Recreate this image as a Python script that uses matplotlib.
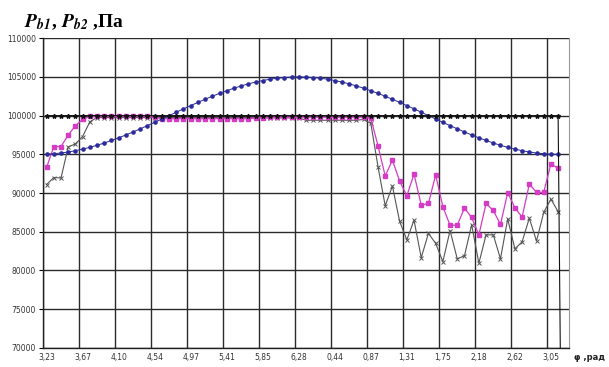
import matplotlib.pyplot as plt
import numpy as np

plt.rcParams['mathtext.fontset'] = 'stix'

# phi labels every 5 points (5 degree step, starting at 185 deg)
phi_labels = ['3,23', '3,67', '4,10', '4,54', '4,97', '5,41', '5,85', '6,28',
              '0,44', '0,87', '1,31', '1,75', '2,18', '2,62', '3,05']

# reference pressure (last point drops to zero)
p_ref = [100000] * 72 + [0]

# blue curve
p_cos = [95020, 95080, 95170, 95300, 95470, 95670, 95900, 96170, 96460, 96790,
         97130, 97500, 97890, 98290, 98710, 99130, 99560, 100000, 100440, 100870,
         101290, 101710, 102110, 102500, 102870, 103210, 103540, 103830, 104100, 104330,
         104530, 104700, 104830, 104920, 104980, 105000, 104980, 104920, 104830, 104700,
         104530, 104330, 104100, 103830, 103540, 103210, 102870, 102500, 102110, 101710,
         101290, 100870, 100440, 100000, 99560, 99130, 98710, 98290, 97890, 97500,
         97130, 96790, 96460, 96170, 95900, 95670, 95470, 95300, 95170, 95080,
         95020, 95000]

# P_b1 (magenta)
p_b1 = [93300, 96000, 96000, 97500, 98700, 99500, 99900, 99900, 99900, 99900,
        99900, 99900, 99900, 99900, 99900, 99800, 99600, 99600, 99600, 99600,
        99600, 99600, 99600, 99600, 99600, 99600, 99600, 99600, 99600, 99700,
        99700, 99800, 99800, 99800, 99800, 99800, 99800, 99800, 99800, 99800,
        99800, 99800, 99800, 99800, 99800, 99650, 96100, 92200, 94250, 91550,
        89650, 92450, 88450, 88650, 92350, 88250, 85850, 85850, 88050, 86850,
        84600, 88650, 87750, 85950, 90050, 88100, 86900, 91150, 90100, 90100,
        93750, 93200]

# P_b2 (gray)
p_b2 = [91100, 92000, 91950, 95950, 96350, 97300, 99200, 99750, 99750, 99750,
        99750, 99750, 99750, 99750, 99750, 99750, 99750, 99750, 99750, 99750,
        99750, 99750, 99750, 99750, 99750, 99750, 99750, 99750, 99750, 99750,
        99700, 99700, 99700, 99700, 99700, 99700, 99400, 99400, 99400, 99400,
        99400, 99400, 99400, 99400, 99500, 99000, 93400, 88350, 90900, 86350,
        83950, 86500, 81650, 84800, 83500, 81150, 85150, 81500, 81900, 85900,
        80950, 84600, 84600, 81500, 86650, 82800, 83700, 86750, 83800, 87500,
        89200, 87600]

fig = plt.figure(figsize=(6.09, 3.67), dpi=100)
ax = fig.add_axes([0.0706, 0.052, 0.8636, 0.844])

ax.plot(range(len(p_b2)), p_b2, color='#555555', lw=0.8, marker='x', ms=3, mew=0.7, zorder=3)
ax.plot(range(len(p_b1)), p_b1, color='#d43cc4', lw=0.9, marker='s', ms=3, zorder=4)
ax.plot(range(len(p_cos)), p_cos, color='#2b2b9c', lw=0.7, marker='o', ms=2.3, zorder=5)
ax.plot(range(len(p_ref)), p_ref, color='#111111', lw=0.8, marker='*', ms=3.2, zorder=6)

ax.set_xlim(-0.5, 72.5)
ax.set_ylim(70000, 110000)
ax.set_yticks(np.arange(70000, 110001, 5000))
ax.set_yticklabels([str(v) for v in range(70000, 110001, 5000)], fontsize=5.5, color='#333333')

ax.set_xticks(np.arange(0, 71, 5))
ax.set_xticklabels(phi_labels, fontsize=5.5, color='#333333')
ax.set_xticks(np.arange(-0.5, 70, 5), minor=True)
ax.tick_params(axis='x', which='major', length=0, pad=4)
ax.tick_params(axis='x', which='minor', length=0)
ax.tick_params(axis='y', length=3, width=0.8, pad=2)

ax.grid(True, axis='y', color='#2a2a2a', lw=1.0)
ax.grid(True, axis='x', which='minor', color='#2a2a2a', lw=1.0)
for s in ['left', 'bottom']:
    ax.spines[s].set_color('#222222')
    ax.spines[s].set_linewidth(1.0)
ax.spines['right'].set_color('#999999')
ax.spines['top'].set_visible(False)

fig.text(0.04, 0.925, r'$\mathbfit{P}_{\mathbfit{b1}}$, $\mathbfit{P}_{\mathbfit{b2}}$ ,Па',
         fontsize=14, fontweight='bold', family='Liberation Serif')
fig.text(0.942, 0.02, 'φ ,рад', fontsize=6, fontweight='bold', color='#222222')

plt.savefig('out.png', dpi=100)
